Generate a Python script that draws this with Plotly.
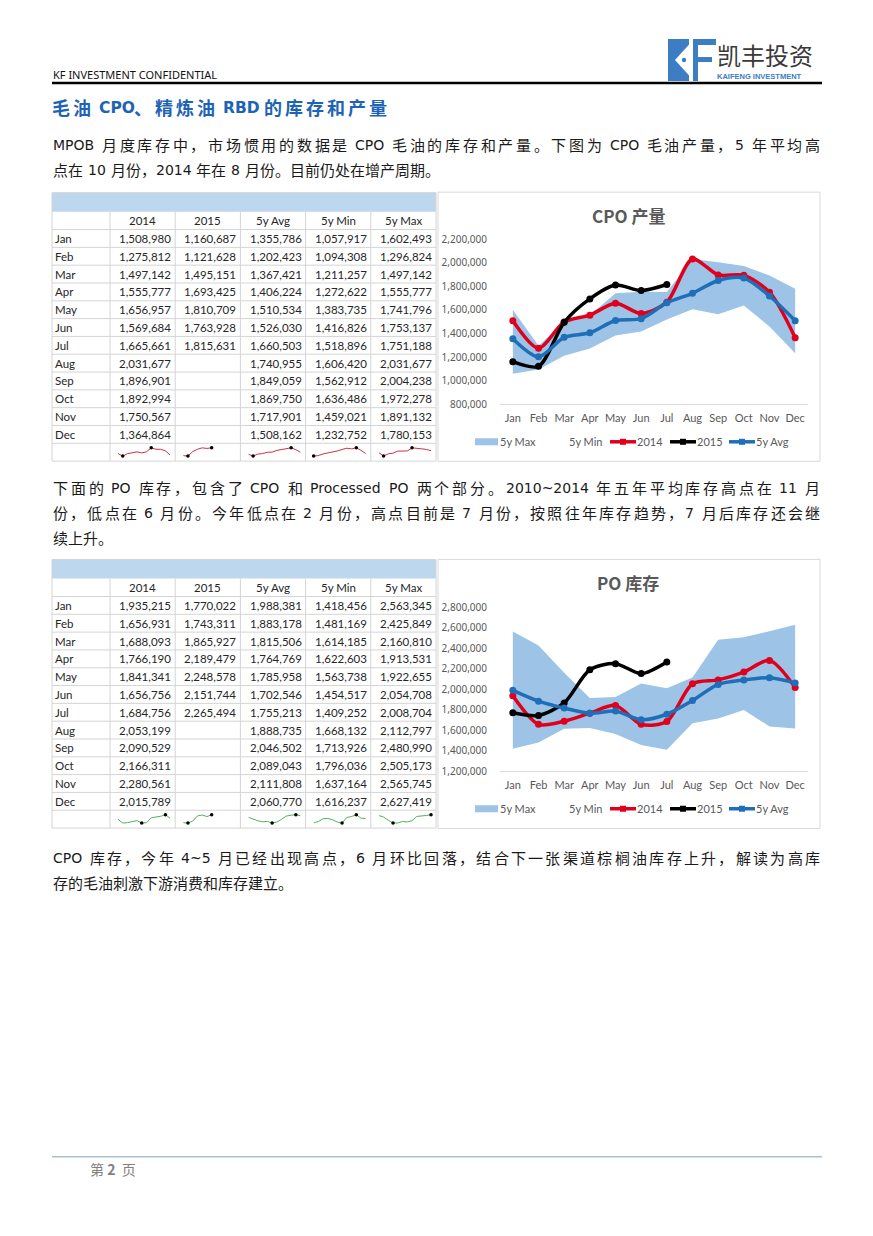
import plotly.graph_objects as go

W, H = 873, 1236

# ---------------- data ----------------
months = ["Jan", "Feb", "Mar", "Apr", "May", "Jun", "Jul", "Aug", "Sep", "Oct", "Nov", "Dec"]
col_headers = ["2014", "2015", "5y Avg", "5y Min", "5y Max"]

cpo_2014 = [1508980, 1275812, 1497142, 1555777, 1656957, 1569684, 1665661, 2031677, 1896901, 1892994, 1750567, 1364864]
cpo_2015 = [1160687, 1121628, 1495151, 1693425, 1810709, 1763928, 1815631]
cpo_avg = [1355786, 1202423, 1367421, 1406224, 1510534, 1526030, 1660503, 1740955, 1849059, 1869750, 1717901, 1508162]
cpo_min = [1057917, 1094308, 1211257, 1272622, 1383735, 1416826, 1518896, 1606420, 1562912, 1636486, 1459021, 1232752]
cpo_max = [1602493, 1296824, 1497142, 1555777, 1741796, 1753137, 1751188, 2031677, 2004238, 1972278, 1891132, 1780153]

po_2014 = [1935215, 1656931, 1688093, 1766190, 1841341, 1656756, 1684756, 2053199, 2090529, 2166311, 2280561, 2015789]
po_2015 = [1770022, 1743311, 1865927, 2189479, 2248578, 2151744, 2265494]
po_avg = [1988381, 1883178, 1815506, 1764769, 1785958, 1702546, 1755213, 1888735, 2046502, 2089043, 2111808, 2060770]
po_min = [1418456, 1481169, 1614185, 1622603, 1563738, 1454517, 1409252, 1668132, 1713926, 1796036, 1637164, 1616237]
po_max = [2563345, 2425849, 2160810, 1913531, 1922655, 2054708, 2008704, 2112797, 2480990, 2505173, 2565745, 2627419]

header_left = "KF INVESTMENT CONFIDENTIAL"
logo_cn = "凯丰投资"
logo_en = "KAIFENG INVESTMENT"
title = "毛油 CPO、精炼油 RBD 的库存和产量"
para1 = ["MPOB 月度库存中，市场惯用的数据是 CPO 毛油的库存和产量。下图为 CPO 毛油产量，5 年平均高",
         "点在 10 月份，2014 年在 8 月份。目前仍处在增产周期。"]
para2 = ["下面的 PO 库存，包含了 CPO 和 Processed PO 两个部分。2010~2014 年五年平均库存高点在 11 月",
         "份，低点在 6 月份。今年低点在 2 月份，高点目前是 7 月份，按照往年库存趋势，7 月后库存还会继",
         "续上升。"]
para3 = ["CPO 库存，今年 4~5 月已经出现高点，6 月环比回落，结合下一张渠道棕榈油库存上升，解读为高库",
         "存的毛油刺激下游消费和库存建立。"]
chart_titles = ["CPO 产量", "PO 库存"]
legend_names = ["5y Max", "5y Min", "2014", "2015", "5y Avg"]

# ---------------- styles ----------------
CJK = "Noto Sans CJK SC"
LATF = "DejaVu Sans"
TXT = "#1a1a1a"
GRAY = "#595959"
RED = "#E0001B"
BLACK = "#000000"
BLUE = "#1F6EB8"
FILL = "#9DC3E6"
BAND = "#BDD7EE"
GRID = "#D4D4D4"
LOGO = "#3C7DC4"
TAB = "#262626"


def px(x):
    return x / W


def py(y):
    yy = (y - 9.0) / 0.988
    return 1 - yy / H


annotations = []
shapes = []


def text(s, x, y, size, color=TXT, family=CJK, anchor="left", bold=False):
    if bold:
        s = "<b>" + s + "</b>"
    annotations.append(dict(text=s, x=px(x), y=py(y), xref="paper", yref="paper",
                            xanchor=anchor, yanchor="middle", showarrow=False,
                            borderpad=0, borderwidth=0,
                            font=dict(family=family, size=size, color=color)))


def rect(x0, y0, x1, y1, fill=None, line=None, lw=1):
    shapes.append(dict(type="rect", xref="paper", yref="paper",
                       x0=px(x0), x1=px(x1), y0=py(y1), y1=py(y0),
                       fillcolor=fill if fill else "rgba(0,0,0,0)",
                       line=dict(color=line if line else "rgba(0,0,0,0)", width=lw if line else 0),
                       layer="above"))


def hline(x0, x1, y, color, lw):
    shapes.append(dict(type="line", xref="paper", yref="paper", x0=px(x0), x1=px(x1),
                       y0=py(y), y1=py(y), line=dict(color=color, width=lw), layer="above"))


def vline(x, y0, y1, color, lw):
    shapes.append(dict(type="line", xref="paper", yref="paper", x0=px(x), x1=px(x),
                       y0=py(y0), y1=py(y1), line=dict(color=color, width=lw), layer="above"))


def path(pts, fill):
    d = "M " + " L ".join(f"{px(a):.5f},{py(b):.5f}" for a, b in pts) + " Z"
    shapes.append(dict(type="path", xref="paper", yref="paper", path=d,
                       fillcolor=fill, line=dict(width=0), layer="above"))


def circle(cx, cy, r, fill):
    shapes.append(dict(type="circle", xref="paper", yref="paper",
                       x0=px(cx - r), x1=px(cx + r), y0=py(cy + r), y1=py(cy - r),
                       fillcolor=fill, line=dict(width=0), layer="above"))


# ---------- text line helper (CJK chars + Latin words, optional justification) ----------
DJV = {"M": 0.863, "P": 0.603, "O": 0.787, "B": 0.686, "C": 0.698, "R": 0.695, "D": 0.770,
       "r": 0.411, "o": 0.612, "c": 0.550, "e": 0.615, "s": 0.521, "d": 0.635,
       "~": 0.838, ",": 0.318, ".": 0.318}


def lat_w(tok, fs):
    w = 0
    for ch in tok:
        if ch.isdigit():
            w += 0.636 * fs
        elif ch in DJV:
            w += DJV[ch] * fs
        else:
            w += (0.70 if ch.isupper() else 0.60) * fs
    return w


def tokenize(s):
    toks, buf, buf_sp, sp = [], "", False, False
    for ch in s:
        if ch == " ":
            if buf:
                toks.append((buf, buf_sp))
                buf = ""
            sp = True
        elif ord(ch) < 128:
            if not buf:
                buf_sp, sp = sp, False
            buf += ch
        else:
            if buf:
                toks.append((buf, buf_sp))
                buf = ""
            toks.append((ch, sp))
            sp = False
    if buf:
        toks.append((buf, buf_sp))
    return toks


def line_text(s, x0, y, fs, x1=None, color=TXT, bold=False, lfs=None, space=5.0):
    lfs = lfs if lfs else fs - 1
    toks = tokenize(s)
    widths = [fs if ord(t[0]) >= 128 else lat_w(t, lfs) for t, _ in toks]
    natural = sum(widths) + sum(space for _, sp in toks[1:] if sp)
    extra = 0.0 if x1 is None else (x1 - x0 - natural) / (len(toks) - 1)
    x = x0
    for i, (t, sp) in enumerate(toks):
        if i > 0:
            x += extra + (space if sp else 0)
        if ord(t[0]) >= 128:
            text(t, x, y, fs, color=color, bold=bold)
        else:
            text(t, x, y + 0.5, lfs, color=color, family=LATF, bold=bold)
        x += widths[i]


fig = go.Figure()

# ---------------- header ----------------
text(header_left, 53, 75, 11, color="#111111", family="Noto Sans")
hline(52, 822, 84, "#000000", 2.5)
rect(668, 40, 689, 82, fill=LOGO)
path([(689.5, 45), (675, 61), (689.5, 77)], "#FFFFFF")
circle(684, 61, 2.2, LOGO)
rect(693, 40, 698, 82, fill=LOGO)
rect(693, 40, 716, 46, fill=LOGO)
rect(698, 58, 712, 63, fill=LOGO)
text(logo_cn, 717, 55, 24, color="#3A3A3A")
text("<b>" + logo_en + "</b>", 717, 77.5, 7.5, color=LOGO, family="Liberation Sans")

line_text(title, 52, 108, 18, x1=387, color="#1E64B4", bold=True, lfs=15.5)

FS = 15
line_text(para1[0], 53, 145, FS, x1=820)
line_text(para1[1], 53, 170, FS)
line_text(para2[0], 53, 488, FS, x1=820)
line_text(para2[1], 53, 513, FS, x1=820)
line_text(para2[2], 53, 538, FS)
line_text(para3[0], 53, 858, FS, x1=820)
line_text(para3[1], 53, 883, FS)

# footer
hline(52, 822, 1157, "#A9BFD3", 1.5)
text("第 <b>2</b>  页", 90, 1169, 14, color="#7F7F7F")

# ---------------- tables ----------------
COLX = [52, 110, 175.2, 240.4, 305.6, 370.8, 436]
BAND_H, HEAD_H, ROW_H = 19, 17.9, 17.8


def add_table(top, series, spark_color, axis_start):
    rect(52, top, 436, top + BAND_H, fill=BAND)
    h0 = top + BAND_H
    body0 = h0 + HEAD_H
    bottom = body0 + 13 * ROW_H
    hline(52, 436, body0, GRID, 1)
    for i in range(1, 13):
        hline(52, 436, body0 + i * ROW_H, GRID, 1)
    for x in COLX[1:-1]:
        vline(x, h0, bottom, GRID, 1)
    rect(52, top, 436, bottom, line=GRID, lw=1)
    for j, hd in enumerate(col_headers):
        text(hd, (COLX[j + 1] + COLX[j + 2]) / 2, h0 + HEAD_H / 2, 11.5, color=TAB,
             family="Lato", anchor="center")
    for i, m in enumerate(months):
        yc = body0 + (i + 0.5) * ROW_H
        text(m, 55, yc, 11.5, color=TAB, family="Lato")
        for j, s in enumerate(series):
            if i < len(s):
                text(f"{s[i]:,}", COLX[j + 2] - 4, yc, 11.5, color=TAB, family="Lato",
                     anchor="right")
    # sparklines (last row)
    sy0 = bottom - ROW_H + 3.5
    sy1 = bottom - 4
    for j, s in enumerate(series):
        k = axis_start + j
        xa, ya = f"x{k}", f"y{k}"
        lo, hi = min(s), max(s)
        pad = (hi - lo) * 0.12
        fig.add_trace(go.Scatter(x=list(range(len(s))), y=s, xaxis=xa, yaxis=ya, mode="lines",
                                 line=dict(color=spark_color, width=1), hoverinfo="skip",
                                 showlegend=False, cliponaxis=False))
        ilo, ihi = s.index(lo), s.index(hi)
        fig.add_trace(go.Scatter(x=[ilo, ihi], y=[lo, hi], xaxis=xa, yaxis=ya, mode="markers",
                                 marker=dict(color="black", size=3.5), hoverinfo="skip",
                                 showlegend=False, cliponaxis=False))
        fig.layout[f"xaxis{k}"] = dict(domain=[px(COLX[j + 1] + 8), px(COLX[j + 2] - 5)],
                                       range=[0, 11], visible=False, anchor=ya, fixedrange=True)
        fig.layout[f"yaxis{k}"] = dict(domain=[py(sy1), py(sy0)], range=[lo - pad, hi + pad],
                                       visible=False, anchor=xa, fixedrange=True)


add_table(193.5, [cpo_2014, cpo_2015, cpo_avg, cpo_min, cpo_max], "#CC3340", 3)
add_table(560.2, [po_2014, po_2015, po_avg, po_min, po_max], "#52B060", 8)

# ---------------- charts ----------------


def add_chart(idx, box_top, plot_top, plot_bot, yr, s_min, s_max, s_2014, s_2015, s_avg):
    xa = "x" if idx == 1 else f"x{idx}"
    ya = "y" if idx == 1 else f"y{idx}"
    rect(438, box_top, 820, box_top + 269, line="#D9D9D9", lw=1)
    fig.add_trace(go.Scatter(x=months, y=s_min, xaxis=xa, yaxis=ya, mode="lines",
                             line=dict(width=0, color="rgba(0,0,0,0)"), hoverinfo="skip",
                             showlegend=False))
    fig.add_trace(go.Scatter(x=months, y=s_max, xaxis=xa, yaxis=ya, mode="lines",
                             fill="tonexty", fillcolor=FILL,
                             line=dict(width=0, color="rgba(0,0,0,0)"), showlegend=False))
    for s, c in [(s_2014, RED), (s_2015, BLACK), (s_avg, BLUE)]:
        fig.add_trace(go.Scatter(x=months[:len(s)], y=s, xaxis=xa, yaxis=ya, mode="lines+markers",
                                 line=dict(color=c, width=3.5, shape="spline", smoothing=0.8),
                                 marker=dict(color=c, size=7), showlegend=False))
    key = "" if idx == 1 else str(idx)
    fig.layout["xaxis" + key] = dict(domain=[px(500), px(808)], anchor=ya, type="category",
                                     range=[-0.5, 11.5], showline=True, linecolor="#D9D9D9",
                                     linewidth=1, ticks="", showgrid=False, zeroline=False,
                                     tickfont=dict(family="Lato", size=11, color=GRAY),
                                     ticklabelstandoff=4)
    fig.layout["yaxis" + key] = dict(domain=[py(plot_bot), py(plot_top)], anchor=xa,
                                     range=yr, dtick=200000, tickformat=",", showgrid=False,
                                     zeroline=False, showline=False, ticks="",
                                     tickfont=dict(family="Noto Sans", size=10, color=GRAY),
                                     ticklabelstandoff=12)
    text(chart_titles[idx - 1], 628, box_top + 23, 17, color=GRAY, bold=True, anchor="center")
    # legend
    ly = plot_bot + 37.5
    rect(475, ly - 3.5, 498, ly + 3.5, fill=FILL)
    text(legend_names[0], 500, ly, 11, color=GRAY, family="Lato")
    text(legend_names[1], 569, ly, 11, color=GRAY, family="Lato")
    for (xs, col, name) in [(610, RED, legend_names[2]), (670, BLACK, legend_names[3]),
                            (729, BLUE, legend_names[4])]:
        hline(xs, xs + 26, ly, col, 3.5)
        rect(xs + 10, ly - 3, xs + 16, ly + 3, fill=col)
        text(name, xs + 27, ly, 11, color=GRAY, family="Lato")


add_chart(1, 193, 240, 405, [800000, 2200000], cpo_min, cpo_max, cpo_2014, cpo_2015, cpo_avg)
add_chart(2, 560, 607.7, 771.7, [1200000, 2800000], po_min, po_max, po_2014, po_2015, po_avg)

fig.update_layout(width=W, height=H, margin=dict(l=0, r=0, t=0, b=0),
                  paper_bgcolor="white", plot_bgcolor="white", showlegend=False,
                  annotations=annotations, shapes=shapes)

fig.write_html("out.html")
